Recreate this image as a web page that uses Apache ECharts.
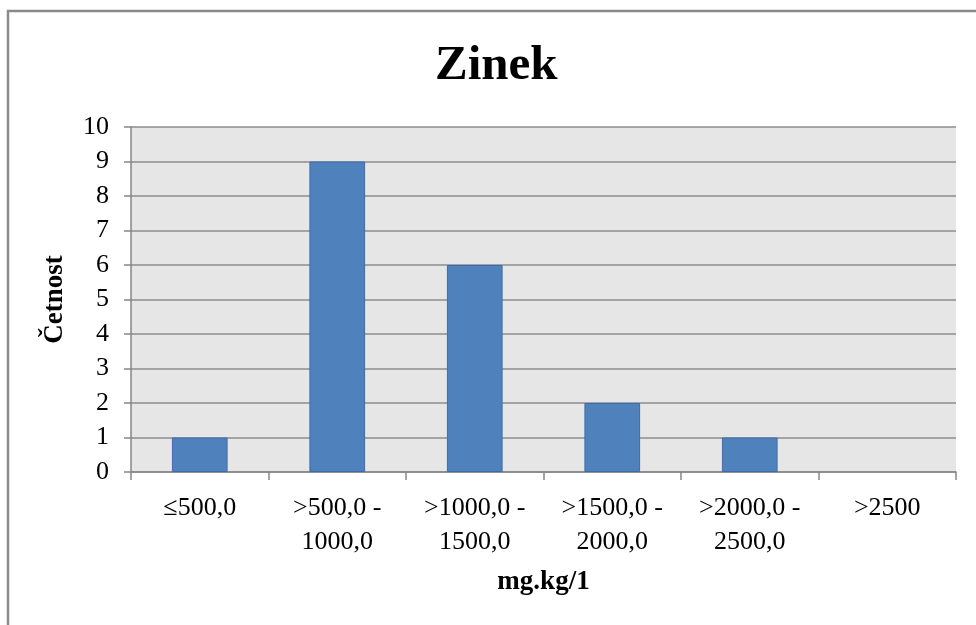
<!DOCTYPE html>
<html>
<head>
<meta charset="utf-8">
<script src="https://cdn.jsdelivr.net/npm/echarts@6/dist/echarts.min.js"></script>
<style>
  html, body { margin: 0; padding: 0; background: #fff; }
  #chart { width: 976px; height: 625px; }
</style>
</head>
<body>
<div id="chart"></div>
<script>
// Zinc concentration classes (mg/kg) and sample counts
const categories = ['≤500,0', '>500,0 -\n1000,0', '>1000,0 -\n1500,0', '>1500,0 -\n2000,0', '>2000,0 -\n2500,0', '>2500'];
const counts = [1, 9, 6, 2, 1, 0];
const yTicks = [0, 1, 2, 3, 4, 5, 6, 7, 8, 9, 10];

const serif = '"Liberation Serif", "Times New Roman", serif';
const chart = echarts.init(document.getElementById('chart'), null, { renderer: 'canvas' });

// empty classes get no outline, so nothing is drawn on the baseline
const barData = counts.map(v => (v === 0 ? { value: v, itemStyle: { borderWidth: 0 } } : v));

chart.setOption({
  animation: false,
  backgroundColor: '#ffffff',
  title: {
    text: 'Zinek',
    left: 430,
    top: 37,
    textStyle: { fontFamily: serif, fontWeight: 'bold', fontSize: 49, color: '#000' }
  },
  graphic: [{
    type: 'rect',
    shape: { x: 8, y: 11, width: 1000, height: 700 },
    style: { fill: 'none', stroke: '#8a8a8a', lineWidth: 2.5 },
    silent: true
  }],
  grid: {
    left: 131, top: 127, right: 20, bottom: 153,
    show: true, backgroundColor: '#e6e6e6', borderWidth: 0
  },
  xAxis: {
    type: 'category',
    data: categories,
    boundaryGap: true,
    name: 'mg.kg/1',
    nameLocation: 'middle',
    nameGap: 97,
    nameTextStyle: { fontFamily: serif, fontWeight: 'bold', fontSize: 27, color: '#000' },
    axisLine: { lineStyle: { color: '#868686', width: 1.5 } },
    axisTick: { show: true, alignWithLabel: false, length: 8, lineStyle: { color: '#868686', width: 1.5 } },
    axisLabel: { fontFamily: serif, fontSize: 26, color: '#000', margin: 19, lineHeight: 34, interval: 0 },
    splitLine: { show: false }
  },
  yAxis: {
    type: 'value',
    min: yTicks[0],
    max: yTicks[yTicks.length - 1],
    interval: 1,
    name: 'Četnost',
    nameLocation: 'middle',
    nameGap: 62,
    nameTextStyle: { fontFamily: serif, fontWeight: 'bold', fontSize: 27, color: '#000' },
    axisLine: { show: true, lineStyle: { color: '#868686', width: 1.5 } },
    axisTick: { show: true, length: 7, lineStyle: { color: '#868686', width: 1.5 } },
    axisLabel: { fontFamily: serif, fontSize: 26, color: '#000', margin: 22 },
    splitLine: { show: true, lineStyle: { color: '#8c8c8c', width: 1.5 } }
  },
  series: [{
    type: 'bar',
    data: barData,
    barWidth: '40.5%',
    itemStyle: { color: '#4f81bd', borderColor: '#3d6da6', borderWidth: 1 }
  }]
});
</script>
</body>
</html>
